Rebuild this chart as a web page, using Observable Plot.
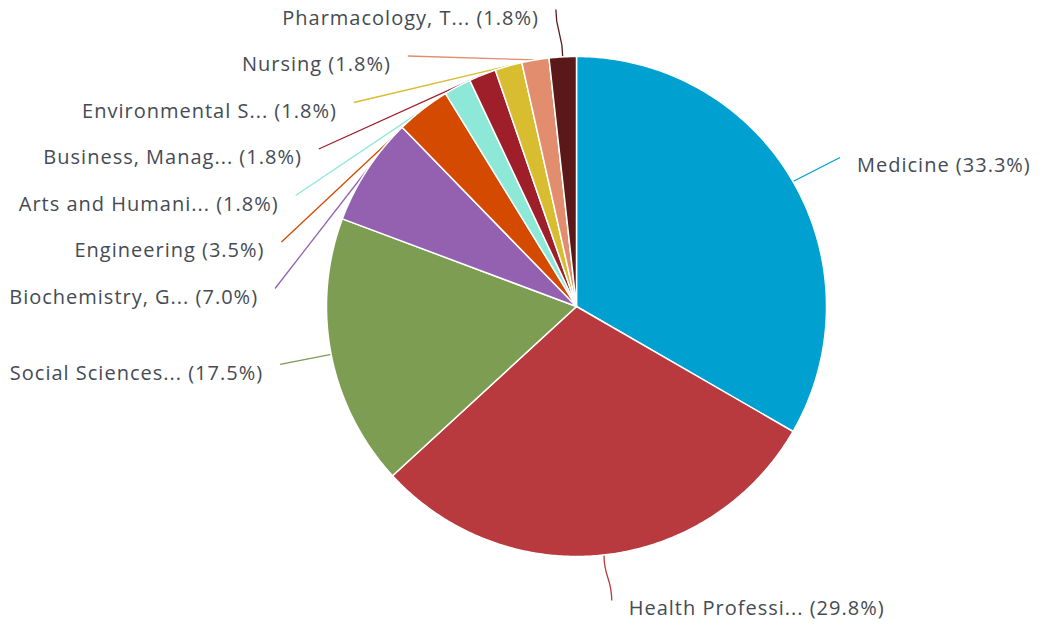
<!DOCTYPE html>
<html>
<head>
<meta charset="utf-8">
<script src="https://cdn.jsdelivr.net/npm/d3@7"></script>
<script src="https://cdn.jsdelivr.net/npm/@observablehq/plot@0.6"></script>
<style>
  html, body { margin: 0; padding: 0; background: #fff; }
  #chart svg { display: block; }
</style>
</head>
<body>
<div id="chart"></div>
<script>
// ---- data ----
const categories = [
  "Medicine",
  "Health Professions",
  "Social Sciences",
  "Biochemistry, Genetics and Molecular Biology",
  "Engineering",
  "Arts and Humanities",
  "Business, Management and Accounting",
  "Environmental Science",
  "Nursing",
  "Pharmacology, Toxicology and Pharmaceutics"
];
const shortLabels = [
  "Medicine",
  "Health Professi...",
  "Social Sciences...",
  "Biochemistry, G...",
  "Engineering",
  "Arts and Humani...",
  "Business, Manag...",
  "Environmental S...",
  "Nursing",
  "Pharmacology, T..."
];
const values = [19, 17, 10, 4, 2, 1, 1, 1, 1, 1];
const colors = [
  "#00a0d1", "#b83a3f", "#7d9d53", "#9361b0", "#d34a00",
  "#8ee8d7", "#9e1f2a", "#d8bd30", "#e28d6d", "#5a1819"
];

// ---- layout ----
const W = 1045, H = 625;
const cx = 576, cy = 306, r = 250;
const labelR = 302;
const slot = 46.5;
const total = d3.sum(values);

const pie = d3.pie().sort(null).value(d => d.value)
  (categories.map((c, i) => ({name: c, label: shortLabels[i], value: values[i], color: colors[i]})));

const pt = (a, rad) => [cx + rad * Math.sin(a), cy - rad * Math.cos(a)];

// wedge polygons
const wedgePts = [];
pie.forEach(p => {
  const n = Math.max(2, Math.ceil((p.endAngle - p.startAngle) / (Math.PI / 360)));
  wedgePts.push({name: p.data.name, color: p.data.color, x: cx, y: cy});
  for (let k = 0; k <= n; k++) {
    const a = p.startAngle + (p.endAngle - p.startAngle) * k / n;
    const [x, y] = pt(a, r);
    wedgePts.push({name: p.data.name, color: p.data.color, x, y});
  }
  wedgePts.push({name: p.data.name, color: p.data.color, x: cx, y: cy});
});

// labels
const labs = pie.map(p => {
  const mid = (p.startAngle + p.endAngle) / 2;
  const [ax, ay] = pt(mid, r);
  const [nx, ny] = pt(mid, labelR);
  return {
    ...p.data, mid, ax, ay, nx, ny,
    left: Math.sin(mid) < 0,
    text: `${p.data.label} (${(p.data.value / total * 100).toFixed(1)}%)`
  };
});
// distribute left-side labels vertically
const leftLabs = labs.filter(d => d.left).sort((a, b) => a.ny - b.ny);
let prev = -Infinity;
leftLabs.forEach(d => {
  d.ly = Math.max(d.ny, prev + slot, 9);
  prev = d.ly;
  const dy = d.ly - cy;
  d.lx = Math.abs(dy) > labelR * 0.95 ? d.nx - 4 : cx - Math.sqrt(Math.max(labelR * labelR - dy * dy, 0));
});
labs.filter(d => !d.left).forEach(d => { d.lx = d.nx + 2; d.ly = Math.min(d.ny + 2, H - 25); });
labs.forEach(d => {
  d.tx = d.left ? d.lx - 17 : d.lx + 17;
  d.ty = d.ly + (d.left ? 9 : 8);
  d.vertical = Math.abs(d.lx - d.ax) < 0.4 * Math.abs(d.ly - d.ay);
});

const font = "'Open Sans', 'Noto Sans', sans-serif";

const chart = Plot.plot({
  width: W, height: H,
  margin: 0,
  style: {fontFamily: font, background: "#fff", letterSpacing: "1px"},
  x: {domain: [0, W], range: [0, W], axis: null},
  y: {domain: [0, H], range: [0, H], axis: null},
  color: {type: "identity"},
  marks: [
    Plot.link(labs.filter(d => !d.vertical), {x1: "ax", y1: "ay", x2: "lx", y2: "ly", stroke: "color", strokeWidth: 1.3}),
    Plot.link(labs.filter(d => d.vertical), {x1: "ax", y1: "ay", x2: "lx", y2: "ly", stroke: "color", strokeWidth: 1.3, curve: "bump-y"}),
    ...pie.map(p => Plot.line(wedgePts.filter(w => w.name === p.data.name), {
      x: "x", y: "y", fill: p.data.color, stroke: "#fff", strokeWidth: 1.5, strokeLinejoin: "round", curve: "linear"
    })),
    Plot.text(labs.filter(d => d.left), {x: "tx", y: "ty", text: "text", textAnchor: "end", fontSize: 20, fill: "#454b54"}),
    Plot.text(labs.filter(d => !d.left), {x: "tx", y: "ty", text: "text", textAnchor: "start", fontSize: 20, fill: "#454b54"})
  ]
});
document.getElementById("chart").appendChild(chart);
</script>
</body>
</html>
